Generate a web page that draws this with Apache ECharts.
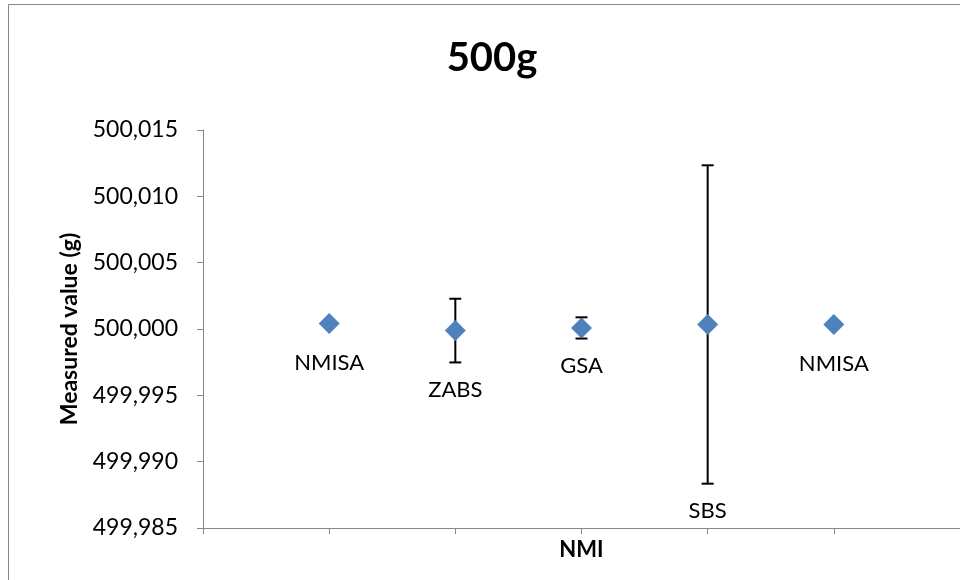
<!DOCTYPE html>
<html>
<head>
<meta charset="utf-8">
<script src="https://cdn.jsdelivr.net/npm/echarts@6/dist/echarts.min.js"></script>
<style>html,body{margin:0;padding:0;background:#fff}#c{width:960px;height:580px}</style>
</head>
<body>
<div id="c"></div>
<script>
const labs = ['NMISA', 'ZABS', 'GSA', 'SBS', 'NMISA'];
const xPos = [1, 2, 3, 4, 5];
const values = [500.00041, 499.99988, 500.00008, 500.00034, 500.00034];
const errs = [0, 0.0024, 0.0008, 0.012, 0];
const yTicks = [499.985, 499.990, 499.995, 500.000, 500.005, 500.010, 500.015];

const FONT = 'Lato, "Open Sans", sans-serif';
const chart = echarts.init(document.getElementById('c'));

const pts = xPos.map((x, i) => [x, values[i]]);
const bars = xPos.map((x, i) => [x, values[i], errs[i], labs[i]]);

chart.setOption({
  animation: false,
  textStyle: { fontFamily: FONT },
  graphic: [{
    type: 'rect', shape: { x: 8.5, y: 4.5, width: 1000, height: 700 },
    style: { fill: 'none', stroke: '#868686', lineWidth: 1 }, silent: true, z: -10
  }],
  title: {
    text: '500g', left: 487, top: 33, textAlign: 'center',
    textStyle: { fontFamily: FONT, fontSize: 40, fontWeight: 'bold', color: '#000' }
  },
  grid: { left: 203, top: 130, bottom: 52, right: -5, containLabel: false },
  xAxis: {
    type: 'value', min: 0, max: 6, interval: 1,
    name: 'NMI', nameLocation: 'middle', nameGap: 11,
    nameTextStyle: { fontFamily: FONT, fontSize: 22, fontWeight: 'bold', color: '#000' },
    axisLine: { show: true, lineStyle: { color: '#868686', width: 1 } },
    axisTick: { show: true, inside: false, length: 6, lineStyle: { color: '#868686' } },
    axisLabel: { show: false },
    splitLine: { show: false }
  },
  yAxis: {
    type: 'value', min: yTicks[0], max: yTicks[yTicks.length - 1], interval: 0.005,
    name: 'Measured value (g)', nameLocation: 'middle', nameGap: 122, nameRotate: 90,
    nameTextStyle: { fontFamily: FONT, fontSize: 23, fontWeight: 'bold', color: '#000' },
    axisLine: { show: true, lineStyle: { color: '#868686', width: 1 } },
    axisTick: { show: true, inside: false, length: 6, lineStyle: { color: '#868686' } },
    axisLabel: {
      fontFamily: FONT, fontSize: 23, color: '#000', margin: 25,
      formatter: v => v.toFixed(3).replace('.', ',')
    },
    splitLine: { show: false }
  },
  series: [
    {
      type: 'custom',
      data: bars,
      z: 2,
      renderItem: function (params, api) {
        const x = api.value(0), v = api.value(1), e = api.value(2);
        const c = api.coord([x, v]);
        const hi = api.coord([x, v + e]);
        const lo = api.coord([x, v - e]);
        const children = [];
        if (e > 0) {
          const st = { stroke: '#000', lineWidth: 2 };
          children.push({ type: 'line', shape: { x1: c[0], y1: hi[1], x2: c[0], y2: lo[1] }, style: st });
          children.push({ type: 'line', shape: { x1: c[0] - 6, y1: hi[1], x2: c[0] + 6, y2: hi[1] }, style: st });
          children.push({ type: 'line', shape: { x1: c[0] - 6, y1: lo[1], x2: c[0] + 6, y2: lo[1] }, style: st });
        }
        const ly = e > 0 ? lo[1] + 27 : c[1] + 39;
        children.push({
          type: 'text',
          style: {
            text: api.value(3), x: c[0], y: ly, align: 'center', verticalAlign: 'middle',
            font: '22px ' + FONT, fill: '#000'
          }
        });
        return { type: 'group', children: children };
      }
    },
    {
      type: 'scatter',
      data: pts,
      symbol: 'diamond',
      symbolSize: 21,
      z: 3,
      itemStyle: { color: '#4F81BD', opacity: 1 }
    }
  ]
});
</script>
</body>
</html>
